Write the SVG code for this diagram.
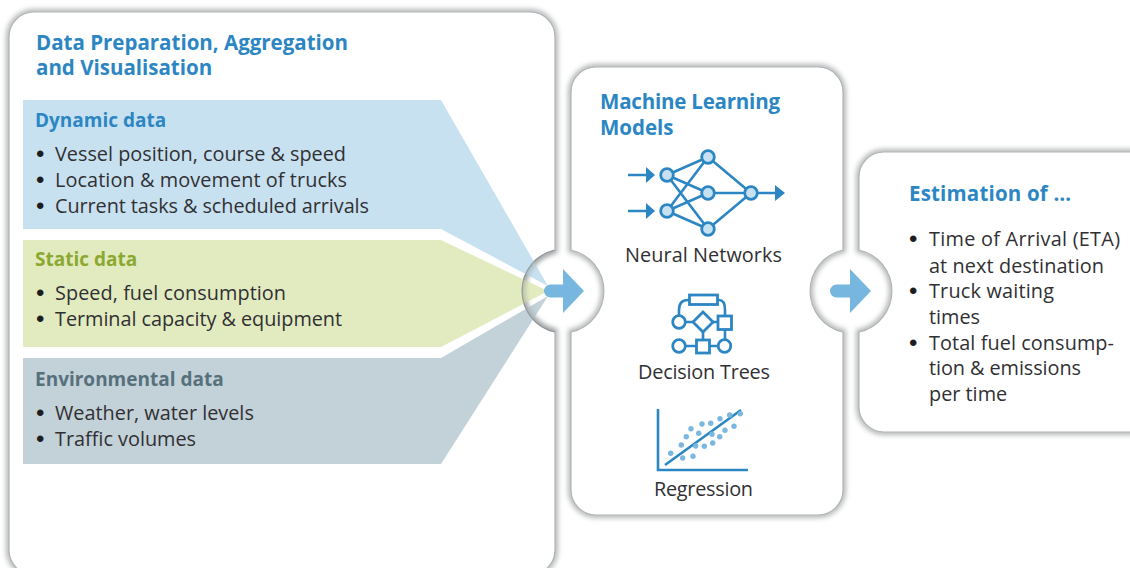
<svg xmlns="http://www.w3.org/2000/svg" width="1130" height="568" viewBox="0 0 1130 568">
<style>
text{font-family:"Open Sans","Noto Sans","Liberation Sans",sans-serif}
.panel{fill:#fff;stroke:#b0b4b5;stroke-width:1.2}
.glow{fill:none;stroke:#b4b6b7;stroke-width:6;filter:url(#blur)}
.h{font-size:20.5px;font-weight:700;fill:#2b86c3}
.sub{font-size:19px;font-weight:700}
.t{font-size:19.85px;fill:#303033}
.b{font-family:"Liberation Sans",sans-serif;font-size:24px;fill:#1d1d1f}
.c{text-anchor:middle}
.ln{fill:none;stroke:#2b86c3;stroke-width:2.6}
.nd{fill:#c8e1f0;stroke:#2b86c3;stroke-width:2.8}
.wh{fill:#fff;stroke:#2b86c3;stroke-width:2.8}
.ar{fill:#2b86c3}
.dot{fill:#7ab8df}
.big{fill:#77b7df}
</style>
<defs>
<filter id="blur" x="-10%" y="-10%" width="120%" height="120%"><feGaussianBlur stdDeviation="2.5"/></filter>
<path id="pl" d="M34,12H530A25,25 0 0 1 555,37V250A42,42 0 0 0 555,332V550A25,25 0 0 1 530,575H34A25,25 0 0 1 9,550V37A25,25 0 0 1 34,12Z"/>
<path id="pm" d="M596,67H818A25,25 0 0 1 843,92V250A42,42 0 0 0 843,332V490A25,25 0 0 1 818,515H596A25,25 0 0 1 571,490V332A42,42 0 0 0 571,250V92A25,25 0 0 1 596,67Z"/>
<path id="pr" d="M884,152H1160V432H884A25,25 0 0 1 859,407V332A42,42 0 0 0 859,250V177A25,25 0 0 1 884,152Z"/>
<clipPath id="disc"><circle cx="563.500" cy="291" r="42"/></clipPath>
</defs>
<rect width="1130" height="568" fill="#fff"/>
<g id="panel-prep">
<use href="#pl" class="glow"/>
<use href="#pl" class="panel"/>
<text class="h" x="36" y="50">Data Preparation, Aggregation</text>
<text class="h" x="36" y="75">and Visualisation</text>
</g>
<g id="panel-ml">
<use href="#pm" class="glow"/>
<use href="#pm" class="panel"/>
<text class="h" x="600" y="109" textLength="180">Machine Learning</text>
<text class="h" x="600" y="135">Models</text>
</g>
<g id="panel-est">
<use href="#pr" class="glow"/>
<use href="#pr" class="panel"/>
<text class="h" x="909" y="201" textLength="162">Estimation of …</text>
<text class="b" x="909" y="247">•</text><text class="t" x="929" y="246" textLength="191">Time of Arrival (ETA)</text>
<text class="t" x="929" y="273" textLength="175">at next destination</text>
<text class="b" x="909" y="299">•</text><text class="t" x="929" y="298" textLength="125">Truck waiting</text>
<text class="t" x="929" y="324">times</text>
<text class="b" x="909" y="351">•</text><text class="t" x="929" y="350" textLength="185">Total fuel consump-</text>
<text class="t" x="929" y="375" textLength="152">tion &amp; emissions</text>
<text class="t" x="929" y="401">per time</text>
</g>
<g id="dynamic">
<path d="M23,100H441L548,286L441,229H23Z" fill="#c8e1f0"/>
<text class="sub" x="35" y="127" fill="#2b86c3">Dynamic data</text>
<text class="b" x="36" y="162">•</text><text class="t" x="55" y="161" textLength="291">Vessel position, course &amp; speed</text>
<text class="b" x="36" y="188">•</text><text class="t" x="55" y="187" textLength="292">Location &amp; movement of trucks</text>
<text class="b" x="36" y="214">•</text><text class="t" x="55" y="213" textLength="314">Current tasks &amp; scheduled arrivals</text>
</g>
<g id="static">
<path d="M23,240H441L548,291L441,347H23Z" fill="#e2ebc0"/>
<text class="sub" x="35" y="266" fill="#8ba82f">Static data</text>
<text class="b" x="36" y="301">•</text><text class="t" x="55" y="300" textLength="231">Speed, fuel consumption</text>
<text class="b" x="36" y="327">•</text><text class="t" x="55" y="326" textLength="287">Terminal capacity &amp; equipment</text>
</g>
<g id="environmental">
<path d="M23,358H441L548,296L441,464H23Z" fill="#c3d1d8"/>
<text class="sub" x="35" y="386" fill="#56707c">Environmental data</text>
<text class="b" x="36" y="421">•</text><text class="t" x="55" y="420">Weather, water levels</text>
<text class="b" x="36" y="447">•</text><text class="t" x="55" y="446">Traffic volumes</text>
</g>
<g id="neural-networks">
<g class="ln">
<path d="M628,175H647M628,211H647M667,175L708,157M667,175L708,193M667,175L708,229M667,211L708,157M667,211L708,193M667,211L708,229M708,157L751,193M708,193H751M708,229L751,193M751,193H777"/>
</g>
<path class="ar" d="M646,167L655,175L646,183ZM646,203L655,211L646,219ZM775,185L785,193L775,201Z"/>
<circle class="nd" cx="667" cy="175" r="6.3"/><circle class="nd" cx="667" cy="211" r="6.3"/>
<circle class="nd" cx="708" cy="157" r="6.3"/><circle class="nd" cx="708" cy="193" r="6.3"/><circle class="nd" cx="708" cy="229" r="6.3"/>
<circle class="nd" cx="751" cy="193" r="6.3"/>
<text class="t c" x="703.500" y="262" textLength="157">Neural Networks</text>
</g>
<g id="decision-trees">
<path class="ln" d="M689,300H688Q679,300 679,310V316M718,300H719Q725,300 725,310V316M685,322H693M713,322H718M703,332V339M725,330V340M685,346H696M710,346H718"/>
<rect class="wh" x="689.500" y="295" width="28" height="9.500"/>
<circle class="wh" cx="679" cy="322" r="6.300"/>
<path class="wh" d="M703,312L713,322L703,332L693,322Z"/>
<rect class="wh" x="718" y="316" width="13.500" height="13.500"/>
<circle class="wh" cx="679" cy="346" r="6.300"/>
<rect class="wh" x="696.500" y="340" width="13" height="13"/>
<circle class="wh" cx="724.500" cy="346" r="6.300"/>
<text class="t c" x="704" y="379" textLength="132">Decision Trees</text>
</g>
<g id="regression">
<path class="ln" d="M658,409V470H748M665,465L741,410"/>
<g class="dot">
<circle cx="670.700" cy="453.300" r="2.700"/><circle cx="682.700" cy="458" r="2.700"/><circle cx="693" cy="456.300" r="2.700"/><circle cx="681.300" cy="445" r="2.700"/><circle cx="686.300" cy="436.700" r="2.700"/><circle cx="691" cy="428.700" r="2.700"/><circle cx="702" cy="424" r="2.700"/><circle cx="710.700" cy="423.300" r="2.700"/><circle cx="720" cy="418.700" r="2.700"/><circle cx="729.700" cy="415" r="2.700"/><circle cx="740.300" cy="413.700" r="2.700"/><circle cx="698.700" cy="433.300" r="2.700"/><circle cx="695.700" cy="446" r="2.700"/><circle cx="704.300" cy="446.300" r="2.700"/><circle cx="712.700" cy="443" r="2.700"/><circle cx="712" cy="434.300" r="2.700"/><circle cx="719.700" cy="436.700" r="2.700"/><circle cx="725" cy="430.300" r="2.700"/><circle cx="734" cy="426.300" r="2.700"/>
</g>
<text class="t c" x="703.500" y="496" textLength="99">Regression</text>
</g>
<g id="connectors">
<g clip-path="url(#disc)"><path d="M555,250A42,42 0 0 0 555,332" fill="none" stroke="#8c9294" stroke-opacity=".55" stroke-width="6" filter="url(#blur)"/></g>
<path d="M555,250A42,42 0 0 0 555,332" fill="none" stroke="#8f9597" stroke-opacity=".8" stroke-width="1.200"/>
<path class="big" d="M563,269L584,291L563,313V297.500H550.500A6.500,6.500 0 0 1 550.500,284.500H563Z"/>
<path class="big" d="M850,269L871,291L850,313V297.500H836.500A6.500,6.500 0 0 1 836.500,284.500H850Z"/>
</g>
</svg>
